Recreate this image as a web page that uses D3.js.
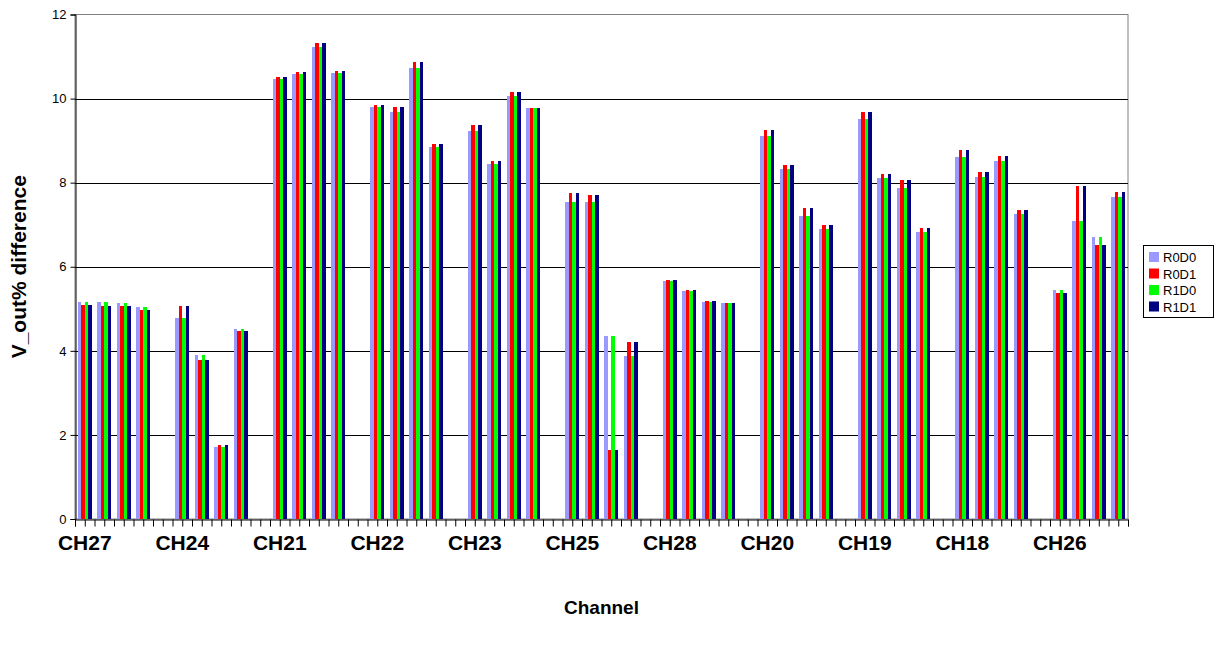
<!DOCTYPE html>
<html>
<head>
<meta charset="utf-8">
<script src="https://cdn.jsdelivr.net/npm/d3@7"></script>
<style>
  body { margin: 0; background: #fff; }
  text { font-family: "Liberation Sans", Arial, sans-serif; }
</style>
</head>
<body>
<script>
var width = 1218;
var height = 652;
var plot = { left: 75, right: 1128, top: 14.5, bottom: 519 };

// channels, 4 measurements each, one empty slot between channels
var channels = ["CH27", "CH24", "CH21", "CH22", "CH23", "CH25", "CH28", "CH20", "CH19", "CH18", "CH26"];
var seriesNames = ["R0D0", "R0D1", "R1D0", "R1D1"];
var seriesColors = ["#9999ff", "#ff0000", "#00ff00", "#000080"];
var yTicks = [0, 2, 4, 6, 8, 10, 12];

var r0d0 = [5.16, 5.16, 5.14, 5.04, 4.78, 3.90, 1.71, 4.52, 10.46, 10.58, 11.22, 10.61,
  9.80, 9.68, 10.73, 8.85, 9.23, 8.44, 10.06, 9.77, 7.54, 7.54, 4.35, 3.88,
  5.66, 5.42, 5.16, 5.14, 9.11, 8.32, 7.21, 6.90, 9.51, 8.11, 7.87, 6.83,
  8.61, 8.13, 8.51, 7.25, 5.45, 7.09, 6.71, 7.66];
var r0d1 = [5.09, 5.07, 5.07, 4.97, 5.07, 3.78, 1.76, 4.47, 10.51, 10.63, 11.32, 10.65,
  9.85, 9.80, 10.87, 8.92, 9.37, 8.51, 10.15, 9.77, 7.75, 7.70, 1.64, 4.21,
  5.68, 5.45, 5.18, 5.14, 9.25, 8.42, 7.39, 6.99, 9.68, 8.20, 8.06, 6.92,
  8.78, 8.25, 8.63, 7.35, 5.37, 7.92, 6.52, 7.78];
var r1d0 = [5.16, 5.16, 5.14, 5.04, 4.78, 3.90, 1.71, 4.52, 10.46, 10.58, 11.22, 10.61,
  9.80, 9.68, 10.73, 8.85, 9.23, 8.44, 10.06, 9.77, 7.54, 7.54, 4.35, 3.88,
  5.66, 5.42, 5.16, 5.14, 9.11, 8.32, 7.21, 6.90, 9.51, 8.11, 7.87, 6.83,
  8.61, 8.13, 8.51, 7.25, 5.45, 7.09, 6.71, 7.66];
var r1d1 = [5.09, 5.07, 5.07, 4.97, 5.07, 3.78, 1.76, 4.47, 10.51, 10.63, 11.32, 10.65,
  9.85, 9.80, 10.87, 8.92, 9.37, 8.51, 10.15, 9.77, 7.75, 7.70, 1.64, 4.21,
  5.68, 5.45, 5.18, 5.14, 9.25, 8.42, 7.39, 6.99, 9.68, 8.20, 8.06, 6.92,
  8.78, 8.25, 8.63, 7.35, 5.37, 7.92, 6.52, 7.78];
var seriesValues = [r0d0, r0d1, r1d0, r1d1];

var perChannel = 4;
var slotsPerChannel = 5;
var nSlots = (channels.length - 1) * slotsPerChannel + perChannel;

var svg = d3
  .select("body")
  .append("svg")
  .attr("width", width)
  .attr("height", height);

svg.append("rect").attr("width", width).attr("height", height).attr("fill", "#fff");

// scales
var slots = d3.range(nSlots);
var x0 = d3.scaleBand().domain(slots).range([plot.left, plot.right]).padding(0);
var x1 = d3
  .scaleBand()
  .domain(seriesNames)
  .range([0, x0.bandwidth()])
  .paddingInner(0)
  .paddingOuter(0.75);
var y = d3.scaleLinear().domain([0, 12]).range([plot.bottom, plot.top]);

// plot border
svg
  .append("rect")
  .attr("x", plot.left)
  .attr("y", plot.top)
  .attr("width", plot.right - plot.left)
  .attr("height", plot.bottom - plot.top)
  .attr("fill", "none")
  .attr("stroke", "#808080")
  .attr("stroke-width", 1);

// gridlines
svg
  .append("g")
  .selectAll("line")
  .data(yTicks.filter((d) => d > 0 && d < 12))
  .join("line")
  .attr("x1", plot.left)
  .attr("x2", plot.right)
  .attr("y1", (d) => Math.round(y(d)) + 0.5)
  .attr("y2", (d) => Math.round(y(d)) + 0.5)
  .attr("stroke", "#000")
  .attr("stroke-width", 1);

// bars
var rows = [];
channels.forEach((ch, c) => {
  for (var k = 0; k < perChannel; k++) {
    var i = c * perChannel + k;
    seriesNames.forEach((s, j) => {
      rows.push({ slot: c * slotsPerChannel + k, series: s, color: seriesColors[j], value: seriesValues[j][i] });
    });
  }
});

svg
  .append("g")
  .selectAll("rect")
  .data(rows)
  .join("rect")
  .attr("x", (d) => x0(d.slot) + x1(d.series))
  .attr("y", (d) => y(d.value))
  .attr("width", x1.bandwidth())
  .attr("height", (d) => y(0) - y(d.value))
  .attr("fill", (d) => d.color)
  .attr("shape-rendering", "crispEdges");

// y axis
var axisy = d3.axisLeft(y).tickValues(yTicks).tickSize(5).tickFormat(d3.format("d"));
var gy = svg
  .append("g")
  .attr("transform", "translate(" + (plot.left + 0.5) + ",0)")
  .call(axisy);
gy.select(".domain").attr("stroke", "#000");
gy.selectAll(".tick line").attr("stroke", "#000");
gy.selectAll(".tick text")
  .attr("font-size", "13px")
  .attr("font-family", "Liberation Sans, Arial, sans-serif")
  .attr("fill", "#000")
  .attr("x", -9);

// x axis: ticks at every half slot
var xt = d3.scaleLinear().domain([0, nSlots * 2]).range([plot.left, plot.right]);
var axisx = d3
  .axisBottom(xt)
  .tickValues(d3.range(0, nSlots * 2 + 1))
  .tickSize(7)
  .tickFormat("");
var gx = svg
  .append("g")
  .attr("transform", "translate(0," + (plot.bottom + 0.5) + ")")
  .call(axisx);
gx.select(".domain").attr("stroke", "#000");
gx.selectAll(".tick line").attr("stroke", "#000");

// channel labels
svg
  .append("g")
  .selectAll("text")
  .data(channels)
  .join("text")
  .attr("x", (d, c) => x0(c * slotsPerChannel) + x0.bandwidth() / 2)
  .attr("y", 550)
  .attr("text-anchor", "middle")
  .attr("font-size", "21px")
  .attr("font-weight", "bold")
  .text((d) => d);

// axis titles
svg
  .append("text")
  .attr("x", (plot.left + plot.right) / 2)
  .attr("y", 614)
  .attr("text-anchor", "middle")
  .attr("font-size", "19px")
  .attr("font-weight", "bold")
  .text("Channel");

svg
  .append("text")
  .attr("transform", "translate(26," + (plot.top + plot.bottom) / 2 + ") rotate(-90)")
  .attr("text-anchor", "middle")
  .attr("font-size", "21px")
  .attr("font-weight", "bold")
  .text("V_out% difference");

// legend
var legend = svg.append("g").attr("transform", "translate(1143,245)");
legend
  .append("rect")
  .attr("x", 0.5)
  .attr("y", 0.5)
  .attr("width", 70)
  .attr("height", 72)
  .attr("fill", "#fff")
  .attr("stroke", "#000");
var items = legend
  .selectAll("g")
  .data(seriesNames)
  .join("g")
  .attr("transform", (d, i) => "translate(0," + (12 + i * 16.5) + ")");
items
  .append("rect")
  .attr("x", 6)
  .attr("y", -5)
  .attr("width", 10)
  .attr("height", 10)
  .attr("fill", (d, i) => seriesColors[i]);
items
  .append("text")
  .attr("x", 20)
  .attr("y", 5)
  .attr("font-size", "13px")
  .text((d) => d);
</script>
</body>
</html>
